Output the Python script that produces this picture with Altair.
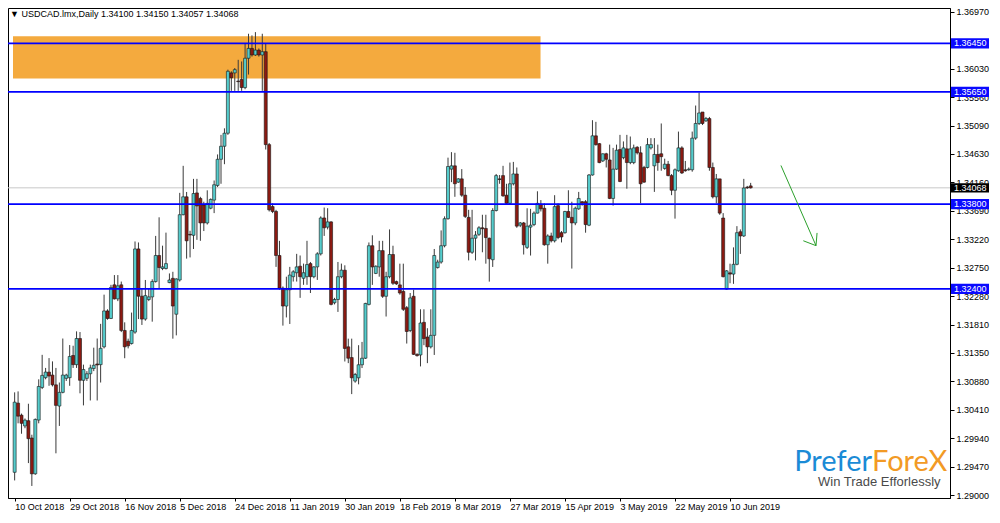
import altair as alt
import pandas as pd

# ---------------- data ----------------
opens = [1.29375,1.30516,1.30318,1.30140,1.30226,1.29941,1.29350,1.30237,1.30775,1.30936,
1.31028,1.30979,1.30818,1.30468,1.30694,1.30925,1.30936,1.31302,1.31151,1.31582,
1.30893,1.30925,1.31001,1.31087,1.31162,1.31151,1.31445,1.32037,1.31913,1.32468,
1.32236,1.32468,1.31715,1.31537,1.31499,1.31688,1.33060,1.32280,1.31903,1.32226,
1.32269,1.32522,1.32952,1.32737,1.32737,1.32505,1.32575,1.31983,1.32548,1.33625,
1.33920,1.33300,1.33285,1.33984,1.33893,1.33785,1.33489,1.33732,1.33866,1.34108,
1.34539,1.34754,1.34969,1.35964,1.35964,1.35830,1.35857,1.35722,1.36206,1.36368,
1.36260,1.36341,1.36260,1.36314,1.34781,1.33759,1.33678,1.32952,1.32414,1.32118,
1.32387,1.32602,1.32667,1.32775,1.32576,1.32602,1.32818,1.32602,1.32764,1.32979,
1.33571,1.33420,1.33506,1.32172,1.32226,1.32602,1.32709,1.31445,1.31268,1.30880,
1.30934,1.31149,1.31257,1.32145,1.33113,1.32656,1.32763,1.33032,1.32279,1.32602,
1.32968,1.32521,1.32467,1.32360,1.32091,1.31714,1.32279,1.31321,1.31311,1.31849,
1.31607,1.31445,1.31634,1.32753,1.32844,1.33113,1.33559,1.34377,1.34431,1.34162,
1.34216,1.33947,1.33581,1.33005,1.33237,1.33301,1.33409,1.33398,1.33237,1.32882,
1.33694,1.34216,1.34270,1.33947,1.33812,1.34135,1.34297,1.33452,1.33489,1.33086,
1.33420,1.33462,1.33651,1.33796,1.33731,1.33129,1.33274,1.33194,1.33774,1.33328,
1.33328,1.33678,1.33581,1.33489,1.33721,1.33839,1.33839,1.33452,1.34280,1.34926,
1.34797,1.34512,1.34630,1.34528,1.33893,1.34377,1.34700,1.34566,1.34711,1.34485,
1.34485,1.34738,1.34646,1.34404,1.34404,1.34727,1.34431,1.34619,1.34630,1.34388,
1.34458,1.34270,1.34028,1.34350,1.34727,1.34366,1.34366,1.34366,1.34888,1.35130,
1.35319,1.35173,1.35211,1.34404,1.33920,1.34216,1.33570,1.32397,1.32666,1.32645,
1.32806,1.33344,1.33274,1.34080,1.34100]
highs = [1.30694,1.30710,1.30344,1.30263,1.30506,1.29995,1.30263,1.30909,1.31313,1.31097,
1.31259,1.31205,1.31097,1.30856,1.31582,1.31001,1.31474,1.31463,1.31700,1.31689,
1.31151,1.31044,1.31151,1.31431,1.31582,1.31824,1.32306,1.32064,1.32468,1.32629,
1.32629,1.32522,1.31849,1.31580,1.32010,1.33183,1.33167,1.32414,1.32548,1.32414,
1.32559,1.33275,1.33582,1.33114,1.33329,1.32656,1.32683,1.32575,1.33985,1.34431,
1.34000,1.33360,1.34216,1.34216,1.33920,1.33839,1.34027,1.33893,1.34189,1.34619,
1.34942,1.35050,1.36018,1.35991,1.36045,1.36180,1.36153,1.36448,1.36610,1.36583,
1.36637,1.36368,1.36610,1.36448,1.34808,1.33812,1.33705,1.33194,1.32441,1.32602,
1.32764,1.32710,1.32979,1.32952,1.32818,1.33194,1.32845,1.32775,1.33006,1.33598,
1.33743,1.33732,1.33517,1.32253,1.32845,1.32818,1.32790,1.31580,1.31580,1.31015,
1.31472,1.31526,1.32171,1.33167,1.33285,1.32790,1.33194,1.33194,1.32683,1.33382,
1.33113,1.32537,1.32817,1.32817,1.32118,1.32333,1.32387,1.31338,1.32064,1.32064,
1.31752,1.32064,1.33059,1.32882,1.33366,1.33597,1.34566,1.34657,1.34646,1.34227,
1.34377,1.34081,1.33705,1.33705,1.33355,1.33436,1.33624,1.33624,1.33247,1.33732,
1.34297,1.34280,1.34431,1.34135,1.34485,1.34496,1.34404,1.33505,1.33505,1.33731,
1.33721,1.33678,1.34011,1.33866,1.33812,1.33301,1.33328,1.33947,1.33812,1.33355,
1.33688,1.34028,1.33839,1.33758,1.34001,1.33850,1.33866,1.34296,1.35184,1.35157,
1.34808,1.34635,1.34646,1.34781,1.34727,1.34781,1.34942,1.34834,1.34942,1.34915,
1.34781,1.34754,1.34754,1.34431,1.34888,1.34888,1.34888,1.34781,1.35130,1.34549,
1.34512,1.34296,1.34388,1.34996,1.34754,1.34512,1.34404,1.34996,1.35426,1.35641,
1.35319,1.35238,1.35238,1.34485,1.34297,1.34216,1.33651,1.32709,1.32817,1.33086,
1.33436,1.33382,1.34216,1.34100,1.34150]
lows = [1.29241,1.30183,1.30011,1.30102,1.29527,1.29150,1.29334,1.30183,1.30748,1.30909,
1.30802,1.30791,1.29688,1.30140,1.30678,1.30882,1.30802,1.31097,1.31097,1.30678,
1.30479,1.30882,1.30560,1.31044,1.30560,1.30856,1.31419,1.31892,1.31903,1.32226,
1.32199,1.31688,1.31257,1.31419,1.31483,1.31661,1.31903,1.31806,1.31876,1.32199,
1.31860,1.32505,1.32414,1.32710,1.32721,1.32495,1.31580,1.31634,1.32522,1.33614,
1.32900,1.32920,1.33059,1.33210,1.33194,1.33355,1.33463,1.33715,1.33651,1.34081,
1.34135,1.34458,1.34942,1.35668,1.35668,1.35668,1.35668,1.35695,1.35937,1.36233,
1.36244,1.36233,1.35668,1.34700,1.33678,1.33651,1.32764,1.32387,1.31795,1.31930,
1.31822,1.32522,1.32522,1.32253,1.32468,1.32468,1.32333,1.32576,1.32549,1.32952,
1.33275,1.33382,1.32129,1.32145,1.32021,1.32576,1.31203,1.31176,1.30665,1.30853,
1.30826,1.31095,1.31246,1.32128,1.32467,1.32645,1.32602,1.32252,1.31945,1.32575,
1.32467,1.32467,1.32306,1.32037,1.31499,1.31687,1.31311,1.31284,1.31122,1.31472,
1.31176,1.31418,1.31311,1.32736,1.32817,1.33086,1.33543,1.34162,1.33920,1.34151,
1.33920,1.33570,1.32871,1.32978,1.32871,1.33274,1.33005,1.32817,1.32521,1.32763,
1.33678,1.34135,1.33920,1.33785,1.33796,1.34108,1.33409,1.33420,1.32968,1.33059,
1.32951,1.33436,1.33645,1.33678,1.33113,1.32817,1.33167,1.33167,1.33220,1.33167,
1.33312,1.33570,1.32736,1.33452,1.33705,1.33774,1.33328,1.33436,1.34270,1.34764,
1.34474,1.34496,1.34404,1.33882,1.33775,1.34366,1.34162,1.34539,1.34054,1.34458,
1.34458,1.34619,1.33812,1.34151,1.34388,1.34700,1.34001,1.34350,1.34350,1.34366,
1.34259,1.33947,1.33560,1.34334,1.34297,1.34334,1.34350,1.34334,1.34861,1.35104,
1.35104,1.35157,1.34350,1.33893,1.33812,1.33624,1.32591,1.32387,1.32494,1.32484,
1.32790,1.32978,1.33258,1.34050,1.34057]
closes = [1.30532,1.30301,1.30183,1.30236,1.29930,1.29350,1.30247,1.30791,1.30974,1.31028,
1.30963,1.30818,1.30479,1.30694,1.30979,1.30979,1.31286,1.31151,1.31582,1.30893,
1.31070,1.31001,1.31097,1.31141,1.31146,1.31420,1.32037,1.31913,1.32425,1.32236,
1.32451,1.31715,1.31445,1.31462,1.31715,1.33060,1.32280,1.31903,1.32290,1.32269,
1.32522,1.32952,1.32753,1.32764,1.32818,1.32548,1.32118,1.32565,1.33625,1.33920,
1.33194,1.33290,1.33974,1.33769,1.33489,1.33489,1.33812,1.33877,1.34119,1.34539,
1.34754,1.34969,1.35991,1.35884,1.36018,1.35820,1.35722,1.36206,1.36368,1.36260,
1.36341,1.36260,1.36314,1.34781,1.33705,1.33678,1.32952,1.32414,1.32118,1.32387,
1.32629,1.32683,1.32764,1.32602,1.32667,1.32802,1.32602,1.32764,1.32979,1.33571,
1.33409,1.33506,1.32145,1.32226,1.32602,1.32710,1.31418,1.31257,1.30934,1.30988,
1.31149,1.31257,1.32161,1.33113,1.32763,1.32774,1.33032,1.32279,1.32602,1.32968,
1.32494,1.32483,1.32333,1.32064,1.31698,1.32252,1.31321,1.31300,1.31838,1.31580,
1.31445,1.31634,1.32952,1.32844,1.33113,1.33559,1.34420,1.34431,1.34135,1.34216,
1.33947,1.33597,1.33005,1.33237,1.33290,1.33409,1.33393,1.33247,1.32898,1.33694,
1.34270,1.34205,1.33936,1.33812,1.34135,1.34297,1.33436,1.33489,1.33129,1.33436,
1.33452,1.33651,1.33812,1.33721,1.33129,1.33274,1.33194,1.33758,1.33248,1.33258,
1.33678,1.33581,1.33489,1.33731,1.33893,1.33812,1.33462,1.34280,1.34926,1.34781,
1.34485,1.34630,1.34539,1.33893,1.34377,1.34689,1.34173,1.34727,1.34485,1.34711,
1.34727,1.34646,1.34135,1.34162,1.34781,1.34781,1.34619,1.34485,1.34582,1.34458,
1.34270,1.34028,1.34366,1.34727,1.34313,1.34350,1.34377,1.34888,1.35130,1.35303,
1.35130,1.35211,1.34404,1.33920,1.34216,1.33651,1.32602,1.32699,1.32645,1.32806,
1.33328,1.33274,1.34065,1.34068,1.34068]

date_labels = ["10 Oct 2018", "29 Oct 2018", "16 Nov 2018", "5 Dec 2018", "24 Dec 2018",
               "11 Jan 2019", "30 Jan 2019", "18 Feb 2019", "8 Mar 2019", "27 Mar 2019",
               "15 Apr 2019", "3 May 2019", "22 May 2019", "10 Jun 2019"]
label_step = 16
y_ticks = [1.36970, 1.36030, 1.35560, 1.35090, 1.34630, 1.34160, 1.33690, 1.33220,
           1.32750, 1.32280, 1.31810, 1.31350, 1.30880, 1.30410, 1.29940, 1.29470, 1.29000]
level_prices = [1.36450, 1.35650, 1.33800, 1.32400]
last_price = 1.34068
zone_bars = [-0.48, 152.9]
zone_prices = [1.35873, 1.36567]
arrow_bars = [222.8, 233.0]
arrow_prices = [1.34437, 1.33114]
head_bars = [229.3, 233.3]
head_prices = [1.33195, 1.33324]
title_text = "\u25BC USDCAD.lmx,Daily  1.34100 1.34150 1.34057 1.34068"

# ---------------- layout ----------------
W, H = 942, 490
FONT = "Liberation Sans"
xs = alt.Scale(domain=[-0.48, 270.5], nice=False, zero=False)
ys = alt.Scale(domain=[1.28951, 1.37035], nice=False, zero=False)

df = pd.DataFrame({"i": list(range(len(opens))), "o": opens, "h": highs, "l": lows, "c": closes})

label_idx = [k * label_step for k in range(len(date_labels))]
label_expr = "[" + ",".join("'" + d + "'" for d in date_labels) + "][round(datum.value/%d)]" % label_step

x_axis = alt.Axis(values=label_idx, labelExpr=label_expr, labelAlign="left", labelPadding=1,
                  tickSize=3, grid=False, title=None, labelFont=FONT, labelFontSize=9,
                  labelColor="black", tickColor="black", domainColor="black", labelOverlap=False,
                  labelFlush=False)
y_axis = alt.Axis(orient="right", values=y_ticks, format=".5f", tickSize=4, labelPadding=2,
                  grid=False, title=None, labelFont=FONT, labelFontSize=9, labelColor="black",
                  tickColor="black", domainColor="black", labelOverlap=False, labelFlush=False)


def X(field):
    return alt.X(field, scale=xs, axis=x_axis)


def Y(field):
    return alt.Y(field, scale=ys, axis=y_axis)


zone_df = pd.DataFrame({"x0": [zone_bars[0]], "x1": [zone_bars[1]],
                        "lo": [zone_prices[0]], "hi": [zone_prices[1]]})
zone = alt.Chart(zone_df).mark_rect(color="#F4AA3E").encode(
    x=X("x0:Q"), x2="x1:Q", y=Y("lo:Q"), y2="hi:Q")

bid = alt.Chart(pd.DataFrame({"p": [last_price]})).mark_rule(color="#c8c8c8", strokeWidth=1).encode(
    y=Y("p:Q"))

wicks = alt.Chart(df).mark_rule(color="#3a3a3a", strokeWidth=1).encode(
    x=X("i:Q"), y=Y("l:Q"), y2="h:Q")

bodies = alt.Chart(df).mark_bar(size=3, stroke="#151515", strokeWidth=0.6).encode(
    x=X("i:Q"), y=Y("o:Q"), y2="c:Q",
    color=alt.condition("datum.c >= datum.o", alt.value("#55cccc"), alt.value("#8c1a12")))

lvl_df = pd.DataFrame({"p": level_prices})
lvl_df["lo"] = lvl_df["p"] - 0.00085
lvl_df["hi"] = lvl_df["p"] + 0.00085
lvl_df["t"] = lvl_df["p"].map(lambda v: "%.5f" % v)
levels = alt.Chart(lvl_df).mark_rule(color="#0000ff", strokeWidth=1.8).encode(y=Y("p:Q"))
lvl_box = alt.Chart(lvl_df).mark_rect(color="#0a0aff").encode(
    x=alt.value(W + 1), x2=alt.value(W + 39), y=Y("lo:Q"), y2="hi:Q")
lvl_txt = alt.Chart(lvl_df).mark_text(align="left", baseline="middle", color="white",
                                      font=FONT, fontSize=9).encode(
    x=alt.value(W + 4), y=Y("p:Q"), text="t:N")

last_df = pd.DataFrame({"p": [last_price], "lo": [last_price - 0.00075],
                        "hi": [last_price + 0.00075], "t": ["%.5f" % last_price]})
last_box = alt.Chart(last_df).mark_rect(color="black").encode(
    x=alt.value(W + 1), x2=alt.value(W + 39), y=Y("lo:Q"), y2="hi:Q")
last_txt = alt.Chart(last_df).mark_text(align="left", baseline="middle", color="white",
                                        font=FONT, fontSize=9).encode(
    x=alt.value(W + 4), y=Y("p:Q"), text="t:N")

arr_df = pd.DataFrame({"x0": [arrow_bars[0], head_bars[0], head_bars[1]],
                       "x1": [arrow_bars[1], arrow_bars[1], arrow_bars[1]],
                       "y0": [arrow_prices[0], head_prices[0], head_prices[1]],
                       "y1": [arrow_prices[1], arrow_prices[1], arrow_prices[1]]})
arrow = alt.Chart(arr_df).mark_rule(color="#2ca02c", strokeWidth=1).encode(
    x=X("x0:Q"), x2="x1:Q", y=Y("y0:Q"), y2="y1:Q")

title = alt.Chart(pd.DataFrame({"t": [title_text]})).mark_text(
    align="left", baseline="middle", font=FONT, fontSize=9, color="black").encode(
    x=alt.value(2), y=alt.value(6), text="t:N")

logo_df = pd.DataFrame({"t": ["Prefer", "ForeX", "Win Trade Efforlessly"]})
logo1 = alt.Chart(logo_df.iloc[[0]]).mark_text(align="right", baseline="alphabetic", font="Lato",
                                               fontSize=29, color="#1a8bd6").encode(
    x=alt.value(864), y=alt.value(463), text="t:N")
logo2 = alt.Chart(logo_df.iloc[[1]]).mark_text(align="left", baseline="alphabetic", font="Lato",
                                               fontSize=29, color="#f29a25").encode(
    x=alt.value(864), y=alt.value(463), text="t:N")
logo3 = alt.Chart(logo_df.iloc[[2]]).mark_text(align="left", baseline="alphabetic", font=FONT,
                                               fontSize=13, color="#4a4a4a").encode(
    x=alt.value(810), y=alt.value(478), text="t:N")

chart = alt.layer(zone, bid, wicks, bodies, levels, lvl_box, lvl_txt, last_box, last_txt,
                  arrow, title, logo1, logo2, logo3).properties(
    width=W, height=H, autosize="none",
    padding={"left": 0, "top": 0, "right": 42, "bottom": 15},
    background="white"
).configure_view(stroke="black", strokeWidth=1)

chart.save("out.html", embed_options={"renderer": "svg", "actions": False})
